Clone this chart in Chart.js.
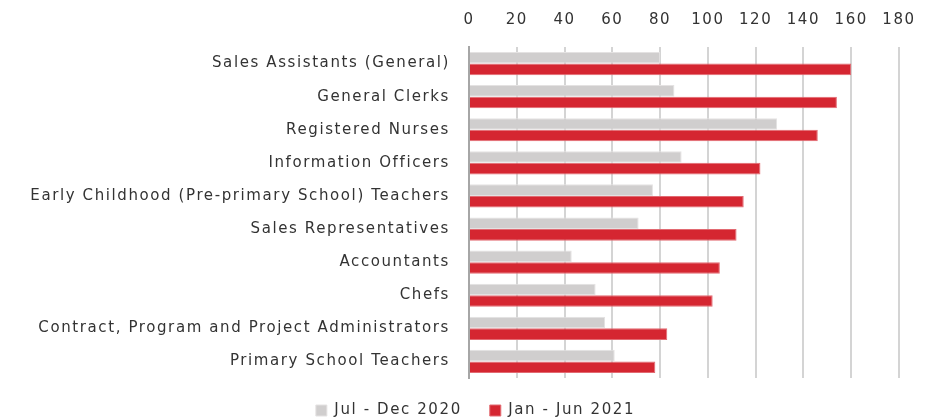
<!DOCTYPE html>
<html lang="en">
<head>
  <meta charset="UTF-8">
  <title>Occupations chart</title>
  <script src="https://cdn.jsdelivr.net/npm/chart.js"></script>
  <style>
    html, body { margin: 0; padding: 0; background: #fff; }
    .wrap { width: 930px; height: 417px; }
  </style>
</head>
<body>
  <div class="wrap"><canvas id="chart"></canvas></div>

  <script>
    // data
    const categories = [
      'Sales Assistants (General)',
      'General Clerks',
      'Registered Nurses',
      'Information Officers',
      'Early Childhood (Pre-primary School) Teachers',
      'Sales Representatives',
      'Accountants',
      'Chefs',
      'Contract, Program and Project Administrators',
      'Primary School Teachers'
    ];
    const julDec2020 = [80, 86, 129, 89, 77, 71, 43, 53, 57, 61];
    const janJun2021 = [160, 154, 146, 122, 115, 112, 105, 102, 83, 78];
    const seriesNames = ['Jul - Dec 2020', 'Jan - Jun 2021'];

    const font = { family: 'DejaVu Sans', size: 15 };

    // the reference font is wide, so add a little letter spacing
    // and keep the legend low with a short box
    const tweaks = {
      id: 'tweaks',
      beforeUpdate(chart) { chart.ctx.letterSpacing = '1.6px'; },
      beforeDraw(chart) { chart.ctx.letterSpacing = '1.6px'; },
      beforeLayout(chart) {
        const lg = chart.legend;
        if (lg && !lg._patched) {
          const fit = lg.fit.bind(lg);
          lg.fit = function () { fit(); this.height = 39; };
          lg._patched = true;
        }
      },
      afterLayout(chart) {
        const lg = chart.legend;
        if (lg) {
          lg.top -= 3; lg.bottom = chart.height;
          lg.left += 21; lg.right += 21;
        }
      }
    };

    new Chart(document.getElementById('chart'), {
      type: 'bar',
      data: {
        labels: categories,
        datasets: [
          {
            label: seriesNames[0],
            data: julDec2020,
            backgroundColor: '#d0cece',
            borderColor: '#e4e2e2',
            borderWidth: 1,
            categoryPercentage: 0.7,
            barPercentage: 1.0
          },
          {
            label: seriesNames[1],
            data: janJun2021,
            backgroundColor: '#d52631',
            borderColor: '#e26a72',
            borderWidth: 1,
            categoryPercentage: 0.7,
            barPercentage: 1.0
          }
        ]
      },
      options: {
        indexAxis: 'y',
        responsive: true,
        maintainAspectRatio: false,
        animation: false,
        layout: { padding: { left: 10, right: 31, top: -7, bottom: 0 } },
        plugins: {
          legend: {
            position: 'bottom',
            labels: {
              font: font,
              color: '#333',
              boxWidth: 11,
              boxHeight: 11,
              padding: 28
            }
          },
          tooltip: { enabled: false }
        },
        scales: {
          x: {
            position: 'top',
            min: 0,
            max: 180,
            ticks: { stepSize: 20, font: font, color: '#333', padding: 18 },
            grid: { color: '#d4d4d4', lineWidth: 2, drawTicks: false },
            border: { display: false },
            afterFit: (scale) => { scale.paddingLeft = 0; scale.paddingRight = 0; }
          },
          y: {
            ticks: { font: font, color: '#333', padding: 11 },
            grid: { display: false },
            border: { color: '#a6a6a6', width: 2 },
            afterFit: (scale) => { scale.width = 459; }
          }
        }
      },
      plugins: [tweaks]
    });
  </script>
</body>
</html>
